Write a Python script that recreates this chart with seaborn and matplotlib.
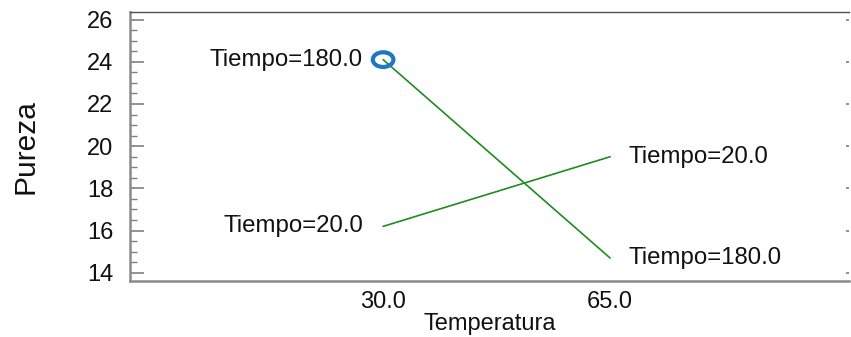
import matplotlib
matplotlib.use("Agg")
import matplotlib.pyplot as plt
import seaborn as sns
import pandas as pd
from matplotlib.ticker import MultipleLocator
from matplotlib.path import Path
from matplotlib.transforms import Affine2D

# Mean purity for each temperature / time combination
temperatura = ["30.0", "65.0"]
pureza_t20 = [16.2, 19.5]
pureza_t180 = [24.1, 14.7]
tiempos = ["Tiempo=20.0", "Tiempo=180.0"]

df = pd.DataFrame({
    "Temperatura": temperatura * 2,
    "Pureza": pureza_t20 + pureza_t180,
    "Tiempo": [tiempos[0]] * 2 + [tiempos[1]] * 2,
})

sns.set_style("white")
plt.rcParams["font.family"] = ["Liberation Sans", "DejaVu Sans"]
plt.rcParams["text.color"] = "#111111"
plt.rcParams["xtick.color"] = "#111111"
plt.rcParams["ytick.color"] = "#111111"
plt.rcParams["axes.labelcolor"] = "#111111"

fig = plt.figure(figsize=(8.51, 3.37), dpi=100)
ax = fig.add_axes([0.1528, 0.166, 0.845, 0.798])

green = "#1e8c1e"
sns.lineplot(data=df, x="Temperatura", y="Pureza", hue="Tiempo",
             palette=[green, green], linewidth=1.2, legend=False,
             sort=False, ax=ax)

# highlighted point (slightly wide oval marker)
oval = Path.unit_circle().transformed(Affine2D().scale(1.4, 1.0))
hl = df[(df["Tiempo"] == tiempos[1]) & (df["Temperatura"] == temperatura[0])]
sns.scatterplot(data=hl, x="Temperatura", y="Pureza", marker=oval, s=220,
                facecolor="none", edgecolor="#1f77c4", linewidth=3.0,
                legend=False, ax=ax, zorder=5)

# end labels
for name, vals in zip(tiempos, [pureza_t20, pureza_t180]):
    ax.annotate(name, (0, vals[0]), xytext=(-14.5, 0), textcoords="offset points",
                ha="right", va="center", fontsize=17.3)
    ax.annotate(name, (1, vals[1]), xytext=(13.5, 0), textcoords="offset points",
                ha="left", va="center", fontsize=17.3)

ax.set_xlim(-1.115, 2.053)
ax.set_ylim(13.61, 26.35)
ax.yaxis.set_major_locator(MultipleLocator(2))
ax.yaxis.set_minor_locator(MultipleLocator(0.5))

ax.tick_params(axis="y", which="major", direction="in", length=10, width=1.2,
               color="#808080", labelsize=17, pad=12, right=True, left=True)
ax.tick_params(axis="y", which="minor", direction="in", length=5, width=1.0,
               color="#808080", left=True, right=False)
ax.tick_params(axis="x", length=0, labelsize=17, pad=7.5)
for t in ax.yaxis.get_major_ticks():
    t.tick2line.set_markersize(2.5)

for side in ["left", "bottom"]:
    ax.spines[side].set_color("#8a8a8a")
    ax.spines[side].set_linewidth(1.8)
ax.spines["top"].set_color("#505050")
ax.spines["top"].set_linewidth(1.0)
ax.spines["right"].set_visible(False)

ax.set_xlabel("Temperatura", fontsize=17, labelpad=0)
ax.set_ylabel("Pureza", fontsize=21.5, labelpad=34)

fig.savefig("out.png", dpi=100)
